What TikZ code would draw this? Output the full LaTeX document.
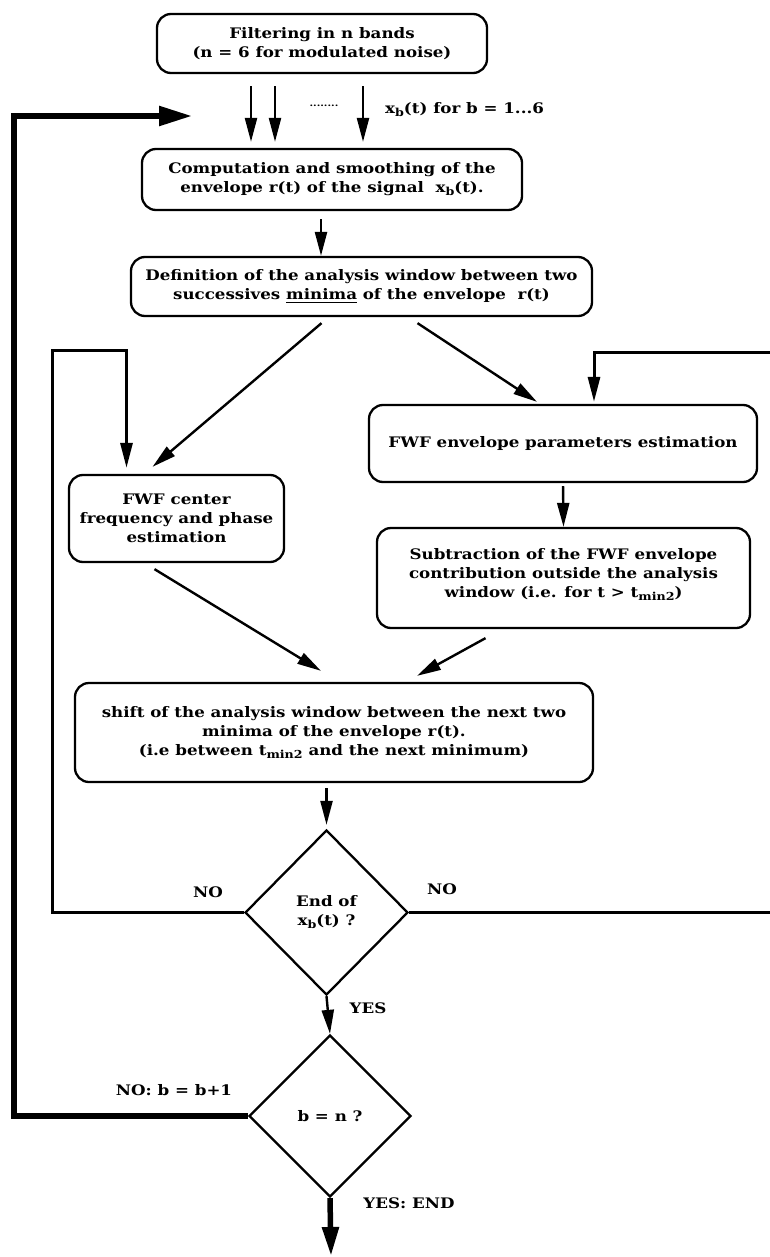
\documentclass[tikz,border=0pt]{standalone}
\usepackage{amsmath}
\usepackage{fontspec}
\setmainfont{DejaVu Serif}[FakeStretch=1.15]
\usepackage{tikz}
\usetikzlibrary{positioning,calc,shapes.geometric}
\usetikzlibrary{arrows.meta}
\newcommand{\boxfont}{\fontsize{14.5}{19}\selectfont\bfseries}
\newcommand{\subb}[1]{\raisebox{-0.4ex}{\fontsize{11}{11}\selectfont\bfseries #1}}
\tikzset{
	stepbox/.style={draw=black,line width=2.3pt,rounded corners=14pt,align=center,inner sep=2pt,font=\boxfont},
	decision/.style={diamond,draw=black,line width=2.3pt,inner sep=0pt,align=center,font=\boxfont},
	flow/.style={draw=black,line width=2.4pt,-{Triangle[length=24pt,width=12pt]}},
	loopline/.style={draw=black,line width=3pt,-{Triangle[length=25pt,width=12pt]}},
	mainloop/.style={draw=black,line width=5.5pt},
	lbl/.style={font=\boxfont,inner sep=1pt},
}

\begin{document}
\begin{tikzpicture}[x=1pt,y=-1pt]
	\useasboundingbox (0,0) rectangle (769,1257);
	% boxes of the main chain
	\node[stepbox,minimum width=330pt,minimum height=59pt] (filt) at (322,43.5)
		{Filtering in n bands\\(n = 6 for modulated noise)};
	\node[stepbox,minimum width=380pt,minimum height=61pt] (envr) at (332,179.5)
		{Computation and smoothing of the\\envelope r(t) of the signal\ \ x\subb{b}(t).};
	\node[stepbox,minimum width=461pt,minimum height=59pt] (defw) at (361.5,286.5)
		{Definition of the analysis window between two\\successives \underline{minima} of the envelope\ \ r(t)};
	\node[stepbox,minimum width=215pt,minimum height=87pt] (fwfc) at (176.5,518.5)
		{FWF center\\frequency and phase\\estimation};
	\node[stepbox,minimum width=388pt,minimum height=77pt] (envp) at (563,443.5)
		{FWF envelope parameters estimation};
	\node[stepbox,minimum width=373pt,minimum height=100pt,text depth=10pt] (subt) at (563.5,578)
		{Subtraction of the FWF envelope\\contribution outside the analysis\\window (i.e. for t > t\subb{min2})};
	\node[stepbox,minimum width=518pt,minimum height=99pt] (shft) at (334,732.5)
		{shift of the analysis window between the next two\\minima of the envelope r(t).\\(i.e between t\subb{min2} and the next minimum)};
	\node[decision,minimum width=163pt,minimum height=165pt] (endx) at (326.5,912.5)
		{End of\\x\subb{b}(t) ?};
	\node[decision,minimum width=162pt,minimum height=162pt] (bisn) at (330,1116)
		{b = n ?};

	% band arrows
	\foreach \bx in {251,275,363}{
		\coordinate (col) at (\bx,0);
		\draw[flow,shorten <=12pt,shorten >=6pt] (filt.south -| col) -- (envr.north -| col);
	}
	\node[lbl] (dots) at (324,106) {\fontsize{9}{9}\selectfont........};
	\node[lbl,anchor=west] (band) at (384,110) {x\subb{b}(t) for b = 1...6};

	\coordinate (col) at (321,0);
	\draw[flow,shorten <=8pt] (envr.south -| col) -- (defw.north -| col);
	\draw[flow] ([xshift=-40pt,yshift=-6pt]defw.south) -- ([xshift=-24pt,yshift=7pt]fwfc.north);
	\draw[flow] ([xshift=56pt,yshift=-6pt]defw.south) -- ([xshift=-26pt,yshift=2pt]envp.north);
	\draw[flow,shorten <=3pt] (envp.south) -- (subt.north);
	\draw[flow] ([xshift=-22pt,yshift=-6pt]fwfc.south) -- ([xshift=-13pt,yshift=11pt]shft.north);
	\draw[flow] ([xshift=-78pt,yshift=-9pt]subt.south) -- ([xshift=83pt,yshift=6pt]shft.north);
	\draw[flow,shorten <=5pt,shorten >=4pt] (shft.south -| endx.north) -- (endx.north);
	\draw[flow] (endx.south) -- (bisn.north);

	% inner loops
	\coordinate (mrail) at (52,350);
	\coordinate (rrail) at (776,352);
	\draw[loopline,shorten >=6pt] (endx.west) -| (mrail) -| ([xshift=-50pt]fwfc.north);
	\draw[loopline,shorten >=2pt] (endx.east) -| (rrail) -| ([xshift=31pt]envp.north);
	\node[lbl] (noa) at (208,892) {NO};
	\node[lbl] (nob) at (442,889) {NO};
	\node[lbl] (yesa) at (368,1008) {YES};

	% outer loop and exit
	\coordinate (lrail) at (14,0);
	\coordinate (fbin) at (192,116);
	\coordinate (fin) at (331,1256);
	\draw[mainloop,-{Triangle[length=33pt,width=19pt]}] (bisn.west) -- (bisn.west -| lrail) |- (fbin);
	\draw[mainloop,-{Triangle[length=29pt,width=16pt]}] (bisn.south) -- (fin);
	\node[lbl] (nobb) at (174,1090) {NO: b = b+1};
	\node[lbl] (yesb) at (409,1203) {YES: END};
\end{tikzpicture}
\end{document}
